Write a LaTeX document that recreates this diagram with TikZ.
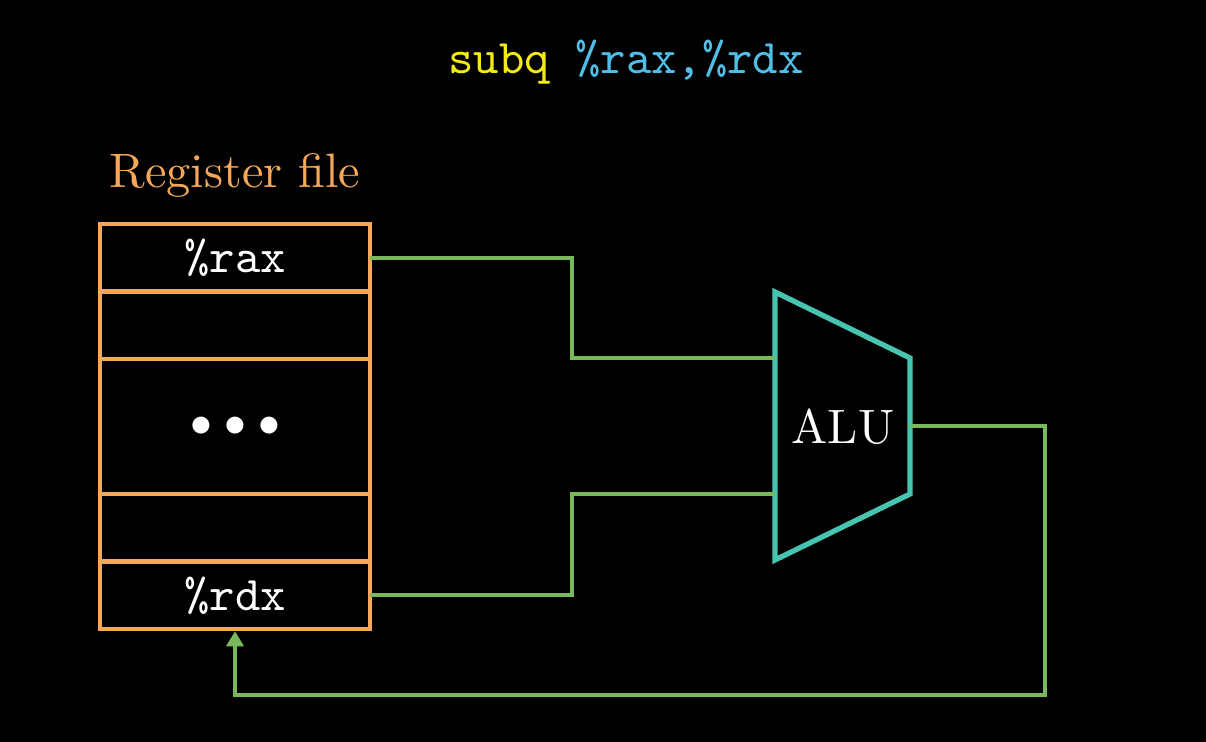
\documentclass[tikz,border=0pt]{standalone}
\usepackage{fontspec}
\setmainfont{lmroman10-regular}[Extension=.otf]
\setmonofont{lmmono10-regular}[Extension=.otf]
\usetikzlibrary{positioning,arrows.meta}

\begin{document}
\begin{tikzpicture}

% === Colors ===
\definecolor{regorange}{RGB}{246,168,88}
\definecolor{wiregreen}{RGB}{122,184,92}
\definecolor{aluteal}{RGB}{70,196,176}
\definecolor{opyellow}{RGB}{245,235,20}
\definecolor{argblue}{RGB}{80,190,230}

\tikzset{
  bigfont/.style={font=\fontsize{27.5}{33}\selectfont},
  regrow/.style={draw=regorange, line width=2.7pt, minimum width=5.4cm,
    minimum height=1.35cm, inner sep=0pt, outer sep=0pt, text=white,
    bigfont},
  wire/.style={wiregreen, line width=2.4pt},
}

% === Background ===
\fill[black] (0,0) rectangle (24.12,14.84);
\useasboundingbox (0,0) rectangle (24.12,14.84);

% === Instruction ===
\node[bigfont] (instr) at (12.52,13.6)
  {\ttfamily\color{opyellow}subq \color{argblue}\%rax,\%rdx};

% === Register file ===
\node[regrow, anchor=north] (rax) at (4.7,10.36) {\ttfamily\%rax};
\node[regrow, below=0pt of rax] (blank1) {};
\node[regrow, below=0pt of blank1, minimum height=2.7cm] (dots)
  {$\bullet\mkern1mu\bullet\mkern1mu\bullet$};
\node[regrow, below=0pt of dots] (blank2) {};
\node[regrow, below=0pt of blank2] (rdx) {\ttfamily\%rdx};
\node[bigfont, text=regorange] (reglabel) at (4.7,11.34) {Register file};

% === ALU ===
\coordinate (alu-tl) at (15.5,9.0);
\coordinate (alu-bl) at (15.5,3.64);
\coordinate (alu-tr) at (18.2,7.68);
\coordinate (alu-br) at (18.2,4.96);
\draw[aluteal, line width=3pt] (alu-tl) -- (alu-tr) -- (alu-br)
  -- (alu-bl) -- cycle;
\node[bigfont, text=white] (alu) at (16.86,6.3) {ALU};
\coordinate (alu-in-a) at (15.5,7.68);
\coordinate (alu-in-b) at (15.5,4.96);
\coordinate (alu-out) at (18.2,6.32);

% === Wires ===
\draw[wire] (rax.east) -- ++(4.04,0) |- (alu-in-a);
\draw[wire] (rdx.east) -- ++(4.04,0) |- (alu-in-b);
\coordinate (loop) at (20.9,0.94);
\draw[wire, -{Triangle[length=0.3cm, width=0.34cm]}, shorten >=1.3pt]
  (alu-out) -| (loop) -| (rdx.south);

\end{tikzpicture}
\end{document}
